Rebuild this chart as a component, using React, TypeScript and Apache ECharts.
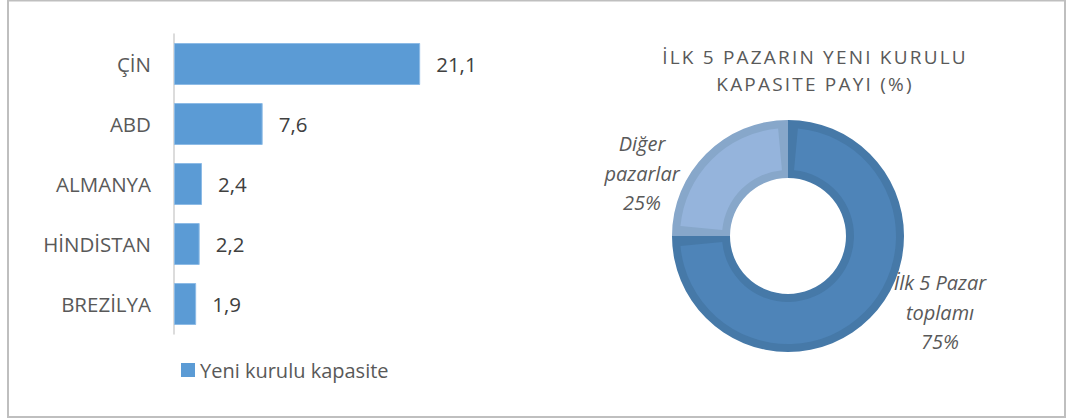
import { useEffect, useRef } from 'react';
import * as echarts from 'echarts';

const categories = ['ÇİN', 'ABD', 'ALMANYA', 'HİNDİSTAN', 'BREZİLYA'];
const capacityValues = [21.1, 7.6, 2.4, 2.2, 1.9];
const barSeriesName = 'Yeni kurulu kapasite';

const shareNames = ['İlk 5 Pazar toplamı', 'Diğer pazarlar'];
const shareLabels = ['İlk 5 Pazar\ntoplamı', 'Diğer\npazarlar'];
const shareValues = [75, 25];

const titleLines = ['İLK 5 PAZARIN YENI KURULU', 'KAPASITE PAYI (%)'];

const FONT = "'Open Sans', 'Noto Sans', sans-serif";
const fillColors = ['#4e84b8', '#95b4dc'];
const borderColors = ['#4679a8', '#87a7ca'];
const labelPos = [
  { x: 940, y: 312 },
  { x: 642, y: 173 },
];

export default function App() {
  const ref = useRef<HTMLDivElement>(null);
  useEffect(() => {
    const el = ref.current!;
    const chart = echarts.init(el, null, { renderer: 'svg' });
    const option: any = {
      animation: false,
      textStyle: { fontFamily: FONT },
      title: {
        text: titleLines.join('\n'),
        left: 815,
        top: 43,
        padding: 0,
        textAlign: 'center',
        textStyle: {
          fontFamily: FONT,
          fontSize: 19,
          fontWeight: 'normal',
          color: '#595959',
          lineHeight: 27.5,
        },
      },
      graphic: [
        {
          type: 'rect',
          silent: true,
          shape: { x: 8, y: 0.5, width: 1057, height: 416.5 },
          style: { fill: 'none', stroke: '#bfbfbf', lineWidth: 2 },
        },
      ],
      legend: {
        data: [barSeriesName],
        left: 181,
        top: 360,
        padding: 0,
        icon: 'rect',
        itemWidth: 14,
        itemHeight: 14,
        itemStyle: { borderWidth: 0 },
        textStyle: { fontFamily: FONT, fontSize: 20, color: '#595959' },
      },
      grid: { left: 174, top: 34, width: 350, height: 300 },
      xAxis: {
        type: 'value',
        min: 0,
        max: 30,
        show: false,
      },
      yAxis: {
        type: 'category',
        data: categories,
        inverse: true,
        axisLine: { show: true, lineStyle: { color: '#d0d0d0', width: 1.5 } },
        axisTick: { show: false },
        axisLabel: {
          margin: 23,
          fontFamily: FONT,
          fontSize: 20.5,
          color: '#595959',
        },
      },
      series: [
        {
          name: barSeriesName,
          type: 'bar',
          data: capacityValues,
          barCategoryGap: '30%',
          itemStyle: { color: '#5b9bd5', borderColor: '#8dbbe6', borderWidth: 1 },
          label: {
            show: true,
            position: 'right',
            distance: 16,
            fontFamily: FONT,
            fontSize: 20.5,
            color: '#404040',
            formatter: (p: any) => Number(p.value).toFixed(1).replace('.', ','),
          },
        },
        {
          name: 'share-border',
          type: 'pie',
          silent: true,
          center: [788, 236],
          radius: [58, 116],
          startAngle: 90,
          clockwise: true,
          label: { show: false },
          labelLine: { show: false },
          data: shareNames.map((n, i) => ({
            name: n,
            value: shareValues[i],
            itemStyle: { color: borderColors[i] },
          })),
        },
        {
          name: 'share',
          type: 'pie',
          center: [788, 236],
          radius: [66, 108],
          startAngle: 90,
          clockwise: true,
          padAngle: 10.5,
          labelLine: { show: false },
          label: {
            show: true,
            position: 'outside',
            fontFamily: FONT,
            fontStyle: 'italic',
            fontSize: 20,
            lineHeight: 29.5,
            color: '#595959',
            align: 'center',
            formatter: (p: any) => `${shareLabels[p.dataIndex]}\n${p.value}%`,
          },
          labelLayout: (p: any) => ({
            x: labelPos[p.dataIndex].x,
            y: labelPos[p.dataIndex].y,
            align: 'center',
            verticalAlign: 'middle',
            moveOverlap: false,
          }),
          data: shareNames.map((n, i) => ({
            name: n,
            value: shareValues[i],
            itemStyle: { color: fillColors[i] },
          })),
        },
      ],
    };
    chart.setOption(option);
    const applySpacing = () => {
      el.querySelectorAll('text').forEach((t) => {
        const s = (t.textContent || '').trim();
        if (titleLines.includes(s)) t.setAttribute('letter-spacing', '2.2');
      });
    };
    applySpacing();
    chart.on('finished', applySpacing);
    return () => chart.dispose();
  }, []);
  return (
    <div
      ref={ref}
      style={{ position: 'absolute', left: 0, top: 0, width: 1066, height: 419 }}
    />
  );
}
